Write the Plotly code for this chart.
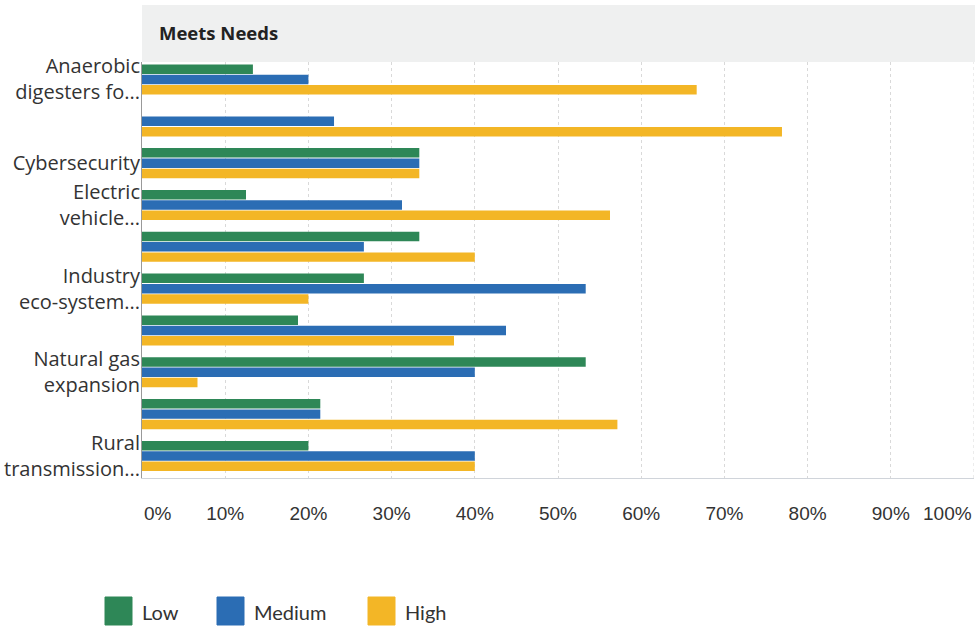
import plotly.graph_objects as go

# ---- data ----
categories = [
    "Anaerobic<br>digesters fo...",
    "",
    "Cybersecurity",
    "Electric<br>vehicle...",
    "",
    "Industry<br>eco-system...",
    "",
    "Natural gas<br>expansion",
    "",
    "Rural<br>transmission...",
]
series_names = ["Low", "Medium", "High"]
low_vals = [13.33, 0.0, 33.33, 12.5, 33.33, 26.67, 18.75, 53.33, 21.43, 20.0]
medium_vals = [20.0, 23.08, 33.33, 31.25, 26.67, 53.33, 43.75, 40.0, 21.43, 40.0]
high_vals = [66.67, 76.92, 33.33, 56.25, 40.0, 20.0, 37.5, 6.67, 57.14, 40.0]
x_tick_vals = [0, 10, 20, 30, 40, 50, 60, 70, 80, 90, 100]
x_tick_text = ["0%", "10%", "20%", "30%", "40%", "50%", "60%", "70%", "80%", "90%", "100%"]
panel_title = "Meets Needs"

colors = ["#2e8757", "#2b6db4", "#f3b626"]

# ---- layout geometry (pixels) ----
W, H = 979, 628
L, R, T, B = 142, 5, 62, 150
PW, PH = W - L - R, H - T - B


def fx(px):
    return (px - L) / PW


def fy(py):
    return (H - B - py) / PH


positions = list(range(len(categories)))

fig = go.Figure()
for name, vals, col in zip(series_names, [low_vals, medium_vals, high_vals], colors):
    fig.add_trace(go.Bar(
        y=positions, x=vals, orientation="h", name=name,
        marker=dict(color=col, line=dict(width=0)),
        showlegend=False, hoverinfo="x+name",
    ))

font_lbl = "Open Sans, Noto Sans, sans-serif"
font_tick = "Liberation Sans, Arial, sans-serif"
font_leg = "Lato, sans-serif"

shapes = []
annotations = []

# header banner
shapes.append(dict(type="rect", xref="paper", yref="paper",
                   x0=0, x1=fx(975), y0=fy(62), y1=fy(5),
                   fillcolor="#eff0f0", line=dict(width=0), layer="below"))
annotations.append(dict(text="<b>" + panel_title + "</b>", xref="paper", yref="paper",
                        x=fx(157), y=fy(33), xanchor="left", yanchor="middle",
                        showarrow=False, font=dict(family=font_lbl, size=18.5, color="#222")))

# end x tick labels (aligned inward)
annotations.append(dict(text=x_tick_text[0], xref="x", yref="paper", x=x_tick_vals[0],
                        y=fy(513), xanchor="left", yanchor="middle", showarrow=False,
                        font=dict(family=font_tick, size=19, color="#333")))
annotations.append(dict(text=x_tick_text[-1], xref="x", yref="paper", x=x_tick_vals[-1],
                        y=fy(513), xanchor="right", yanchor="middle", showarrow=False,
                        font=dict(family=font_tick, size=19, color="#333")))

# custom legend with large square swatches
legend_x = [105, 217, 368]
for name, col, lx in zip(series_names, colors, legend_x):
    shapes.append(dict(type="rect", xref="paper", yref="paper",
                       x0=fx(lx), x1=fx(lx + 27), y0=fy(625), y1=fy(597),
                       fillcolor=col, line=dict(color=col, width=1)))
    annotations.append(dict(text=name, xref="paper", yref="paper",
                            x=fx(lx + 35), y=fy(612), xanchor="left", yanchor="middle",
                            showarrow=False, font=dict(family=font_leg, size=20, color="#333")))

# right-most gridline at 100%
shapes.append(dict(type="line", xref="x", yref="paper", x0=100, x1=100, y0=0, y1=1,
                   line=dict(color="#d9d9d9", width=1, dash="dot"), layer="below"))

fig.update_layout(
    width=W, height=H,
    margin=dict(l=L, r=R, t=T, b=B, pad=0),
    paper_bgcolor="white", plot_bgcolor="white",
    barmode="group", bargap=0.26, bargroupgap=0.08,
    showlegend=False,
    shapes=shapes, annotations=annotations,
    xaxis=dict(
        range=[0, 100], tickvals=x_tick_vals[1:-1], ticktext=x_tick_text[1:-1],
        showgrid=True, gridcolor="#d9d9d9", griddash="dot", gridwidth=1,
        zeroline=False, showline=True, linecolor="#d0d4da", linewidth=1,
        ticks="", ticklabelstandoff=18,
        tickfont=dict(family=font_tick, size=19, color="#333"),
        fixedrange=True,
    ),
    yaxis=dict(
        range=[9.527, -0.418], tickvals=positions, ticktext=categories,
        showgrid=False, zeroline=False, showline=True, linecolor="#999", linewidth=1,
        ticks="", ticklabelstandoff=-3,
        tickfont=dict(family=font_lbl, size=20, color="#333"),
        fixedrange=True,
    ),
)

fig.write_html("out.html")
